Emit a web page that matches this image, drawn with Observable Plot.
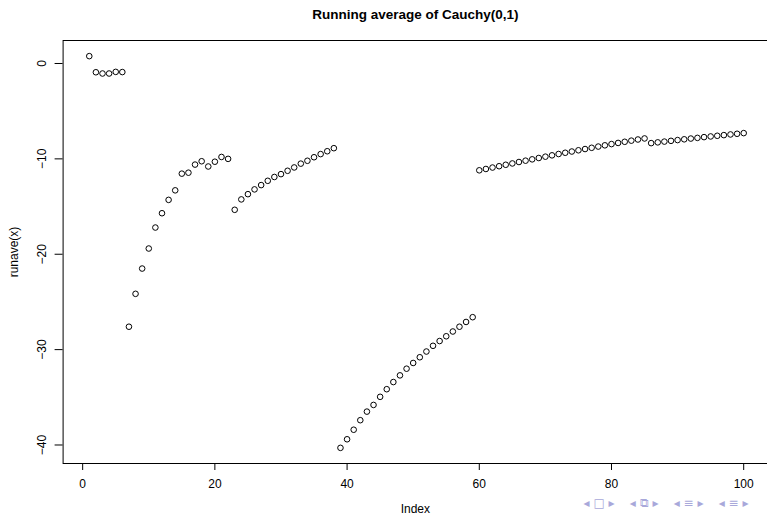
<!DOCTYPE html>
<html><head><meta charset="utf-8">
<script src="https://cdn.jsdelivr.net/npm/d3@7"></script>
<script src="https://cdn.jsdelivr.net/npm/@observablehq/plot@0.6"></script>
<style>
body{margin:0;background:#fff}
svg{display:block}
svg text{white-space:pre}
</style>
</head><body><div id="chart"></div>
<script>
const title = "Running average of Cauchy(0,1)";
const xLabel = "Index";
const yLabel = "runave(x)";
const xTicks = [0, 20, 40, 60, 80, 100];
const yTicks = [0, -10, -20, -30, -40];
const navText = "◂ □ ▸    ◂ ⧉ ▸    ◂ ≡ ▸    ◂ ≡ ▸";
const runave = [
  0.77, -0.92, -1.05, -1.05, -0.88, -0.90, -27.6, -24.15, -21.5, -19.4,
  -17.2, -15.7, -14.3, -13.3, -11.55, -11.45, -10.6, -10.25, -10.8, -10.3,
  -9.8, -10.0, -15.34, -14.25, -13.7, -13.2, -12.75, -12.3, -11.9, -11.6,
  -11.25, -10.9, -10.5, -10.2, -9.83, -9.5, -9.2, -8.88, -40.3, -39.4,
  -38.4, -37.4, -36.5, -35.8, -34.95, -34.15, -33.4, -32.7, -32.0, -31.4,
  -30.8, -30.2, -29.6, -29.1, -28.6, -28.1, -27.6, -27.1, -26.6, -11.2,
  -11.06, -10.91, -10.77, -10.62, -10.48, -10.33, -10.19, -10.05, -9.91, -9.77,
  -9.63, -9.49, -9.36, -9.23, -9.10, -8.97, -8.84, -8.71, -8.58, -8.45,
  -8.33, -8.21, -8.09, -7.97, -7.86, -8.35, -8.27, -8.19, -8.11, -8.03,
  -7.95, -7.87, -7.80, -7.72, -7.65, -7.58, -7.51, -7.44, -7.37, -7.30
];
const index = runave.map((_, i) => i + 1);
const data = index.map((x, i) => ({x, y: runave[i]}));

const font = "'Liberation Sans', Arial, Helvetica, sans-serif";
const fmt = d => String(d).replace("-", "\u2212");

const chart = Plot.plot({
  width: 767,
  height: 517,
  marginLeft: 62.6,
  marginRight: 0,
  marginTop: 40,
  marginBottom: 54,
  style: {fontFamily: font, fontSize: "12px", color: "black", background: "white"},
  x: {domain: [-2.96, 103.6], axis: null},
  y: {domain: [-41.94, 2.41], axis: null},
  marks: [
    Plot.frame({stroke: "black", strokeWidth: 1}),
    Plot.axisX({ticks: xTicks, tickSize: 7, tickPadding: 9, tickFormat: fmt, fontSize: 12, stroke: "black", strokeWidth: 1, label: null}),
    Plot.axisY({ticks: yTicks, tickSize: 8, tickFormat: () => "", stroke: "black", strokeWidth: 1, label: null}),
    Plot.text(yTicks, {y: d => d, text: fmt, frameAnchor: "left", dx: -20.6, rotate: -90, textAnchor: "middle", lineAnchor: "middle", fontSize: 12, fill: "black"}),
    Plot.dot(data, {x: "x", y: "y", r: 2.8, stroke: "black", strokeWidth: 1, fill: "none"}),
    Plot.text([title], {frameAnchor: "top", dy: -26, text: d => d, fontWeight: "bold", fontSize: 13.5, fill: "black", lineAnchor: "middle"}),
    Plot.text([xLabel], {frameAnchor: "bottom", dy: 46, text: d => d, fontSize: 12, fill: "black", lineAnchor: "middle"}),
    Plot.text([yLabel], {frameAnchor: "left", dx: -48.6, rotate: -90, text: d => d, fontSize: 12, fill: "black", lineAnchor: "middle", textAnchor: "middle"}),
    Plot.text([navText], {frameAnchor: "bottom-right", dx: -19, dy: 40, text: d => d, fontSize: 12, fill: "#a8a8da", textAnchor: "end", lineAnchor: "middle", fontFamily: "DejaVu Sans"})
  ]
});
document.getElementById("chart").appendChild(chart);
</script>
</body></html>
